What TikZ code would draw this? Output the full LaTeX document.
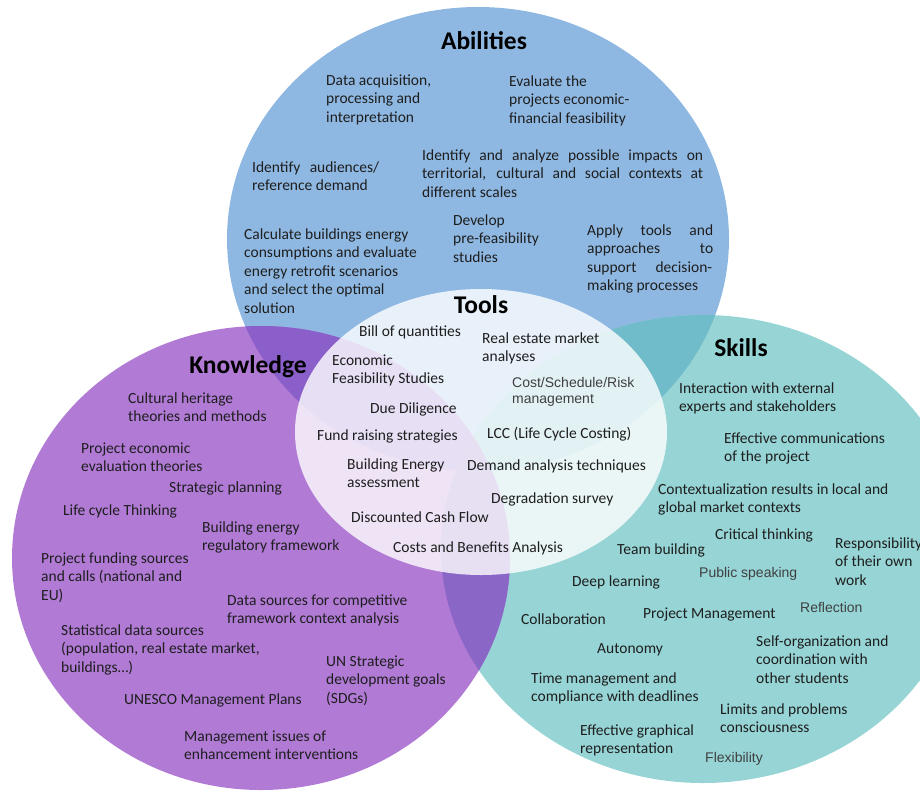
\documentclass[tikz,border=0pt]{standalone}
\usepackage{fontspec}
\setmainfont{Carlito}
\newfontfamily\arialf{Liberation Sans}
\definecolor{cblue}{HTML}{8EB8E2}
\definecolor{cteal}{HTML}{96D4D5}
\definecolor{cpurp}{HTML}{B07AD5}
\definecolor{cbt}{HTML}{71BCCB}
\definecolor{cbp}{HTML}{8B5FC9}
\definecolor{ctp}{HTML}{8A66C7}
\definecolor{txtc}{HTML}{1E1E1E}
\definecolor{graytxt}{HTML}{404040}
\newcommand\tl[1]{\begin{tabular}[t]{@{}l@{}}#1\end{tabular}}
\newcommand\jl[2]{\makebox[#1][s]{#2}}
\begin{document}
\begin{tikzpicture}[x=1pt,y=-1pt,
  txt/.style={anchor=base west,inner sep=0pt,text=txtc,font=\fontsize{15.5}{18.5}\selectfont},
  gtxt/.style={anchor=base west,inner sep=0pt,text=graytxt,font=\arialf\fontsize{14}{16.2}\selectfont},
  ttl/.style={anchor=base,inner sep=0pt,text=black,font=\bfseries\fontsize{25.5}{30}\selectfont}]
\path[use as bounding box] (0,0) rectangle (920,792);
% circles
\fill[cblue] (478,239) ellipse [x radius=251,y radius=232];
\fill[cteal] (703,549) ellipse [x radius=262,y radius=234];
\fill[cpurp] (261,558) ellipse [x radius=249,y radius=232];
\begin{scope}
  \clip (478,239) ellipse [x radius=251,y radius=232];
  \fill[cbt] (703,549) ellipse [x radius=262,y radius=234];
  \fill[cbp] (261,558) ellipse [x radius=249,y radius=232];
\end{scope}
\begin{scope}
  \clip (703,549) ellipse [x radius=262,y radius=234];
  \fill[ctp] (261,558) ellipse [x radius=249,y radius=232];
\end{scope}
\fill[white,fill opacity=0.8] (481,432) ellipse [x radius=186,y radius=143];
% Abilities
\node[ttl] (tA) at (484,49) {Abilities};
\node[txt] (a1) at (326,85) {\tl{Data acquisition,\\processing and\\interpretation}};
\node[txt] (a2) at (509,86) {\tl{Evaluate the\\projects economic-\\financial feasibility}};
\node[txt] (a3) at (252,172) {\tl{\jl{127pt}{Identify audiences/}\\reference demand}};
\node[txt] (a4) at (422,160) {\tl{\jl{281pt}{Identify and analyze possible impacts on}\\\jl{281pt}{territorial, cultural and social contexts at}\\different scales}};
\node[txt] (a5) at (453,225) {\tl{Develop\\pre-feasibility\\studies}};
\node[txt] (a6) at (244,239) {\tl{Calculate buildings energy\\consumptions and evaluate\\energy retrofit scenarios\\and select the optimal\\solution}};
\node[txt] (a7) at (587,235) {\tl{\jl{126pt}{Apply tools and}\\\jl{126pt}{approaches to}\\\jl{125pt}{support decision-}\\making processes}};
% Tools
\node[ttl] (tT) at (481,313) {Tools};
\node[txt] (t1) at (359,336) {Bill of quantities};
\node[txt] (t2) at (482,343) {\tl{Real estate market\\analyses}};
\node[txt] (t3) at (332,365) {\tl{Economic\\Feasibility Studies}};
\node[gtxt] (t4) at (512,387) {\tl{Cost/Schedule/Risk\\management}};
\node[txt] (t5) at (370,413) {Due Diligence};
\node[txt] (t6) at (317,440) {Fund raising strategies};
\node[txt] (t7) at (487,438) {LCC (Life Cycle Costing)};
\node[txt] (t8) at (347,469) {\tl{Building Energy\\assessment}};
\node[txt] (t9) at (467,470) {Demand analysis techniques};
\node[txt] (t10) at (491,503) {Degradation survey};
\node[txt] (t11) at (351,522) {Discounted Cash Flow};
\node[txt] (t12) at (393,552) {Costs and Benefits Analysis};
% Knowledge
\node[ttl] (tK) at (248,373) {Knowledge};
\node[txt] (k1) at (128,403) {\tl{Cultural heritage\\theories and methods}};
\node[txt] (k2) at (81,453) {\tl{Project economic\\evaluation theories}};
\node[txt] (k3) at (169,492) {Strategic planning};
\node[txt] (k4) at (63,515) {Life cycle Thinking};
\node[txt] (k5) at (202,532) {\tl{Building energy\\regulatory framework}};
\node[txt] (k6) at (41,563) {\tl{Project funding sources\\and calls (national and\\EU)}};
\node[txt] (k7) at (227,605) {\tl{Data sources for competitive\\framework context analysis}};
\node[txt] (k8) at (61,635) {\tl{Statistical data sources\\(population, real estate market,\\buildings…)}};
\node[txt] (k9) at (326,666) {\tl{UN Strategic\\development goals\\(SDGs)}};
\node[txt] (k10) at (124,704) {UNESCO Management Plans};
\node[txt] (k11) at (184,741) {\tl{Management issues of\\enhancement interventions}};
% Skills
\node[ttl] (tS) at (741,356) {Skills};
\node[txt] (s1) at (679,393) {\tl{Interaction with external\\experts and stakeholders}};
\node[txt] (s2) at (724,443) {\tl{Effective communications\\of the project}};
\node[txt] (s3) at (658,494) {\tl{Contextualization results in local and\\global market contexts}};
\node[txt] (s4) at (715,539) {Critical thinking};
\node[txt] (s5) at (835,548) {\tl{Responsibility\\of their own\\work}};
\node[txt] (s6) at (617,554) {Team building};
\node[gtxt] (s7) at (699,577) {Public speaking};
\node[txt] (s8) at (572,586) {Deep learning};
\node[txt] (s9) at (521,624) {Collaboration};
\node[txt] (s10) at (643,618) {Project Management};
\node[gtxt] (s11) at (800,612) {Reflection};
\node[txt] (s12) at (597,653) {Autonomy};
\node[txt] (s13) at (756,646) {\tl{Self-organization and\\coordination with\\other students}};
\node[txt] (s14) at (531,683) {\tl{Time management and\\compliance with deadlines}};
\node[txt] (s15) at (720,714) {\tl{Limits and problems\\consciousness}};
\node[txt] (s16) at (580,735) {\tl{Effective graphical\\representation}};
\node[gtxt] (s17) at (705,762) {Flexibility};
\end{tikzpicture}
\end{document}
